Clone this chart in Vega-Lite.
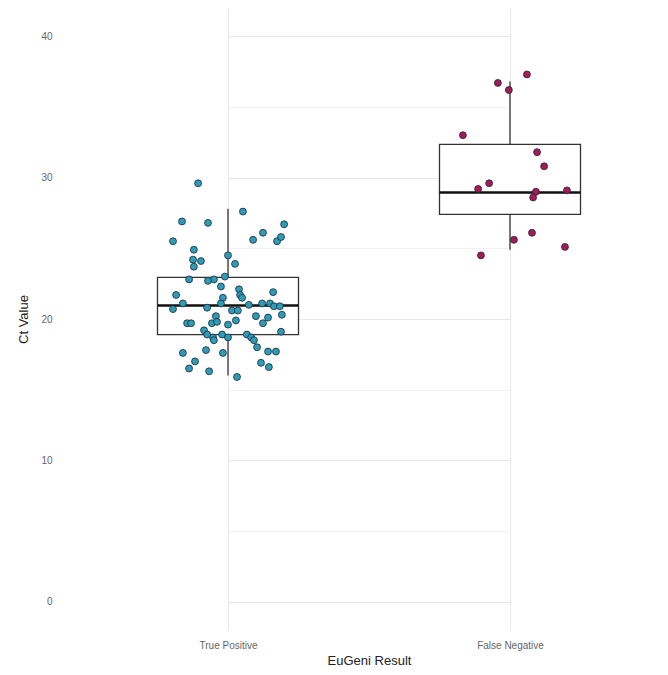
{
  "$schema": "https://vega.github.io/schema/vega-lite/v6.json",
  "autosize": {"type": "none"},
  "width": 608,
  "height": 622,
  "padding": {"left": 60, "top": 8, "right": 0, "bottom": 45},
  "background": "white",
  "config": {
    "view": {"stroke": null},
    "font": "Liberation Sans"
  },
  "datasets": {
    "points": [
      {"result": "True Positive", "ct": 29.6, "jitter": -0.106},
      {"result": "True Positive", "ct": 27.6, "jitter": 0.053},
      {"result": "True Positive", "ct": 26.9, "jitter": -0.163},
      {"result": "True Positive", "ct": 26.8, "jitter": -0.071},
      {"result": "True Positive", "ct": 26.7, "jitter": 0.199},
      {"result": "True Positive", "ct": 25.5, "jitter": -0.195},
      {"result": "True Positive", "ct": 25.6, "jitter": 0.089},
      {"result": "True Positive", "ct": 26.1, "jitter": 0.124},
      {"result": "True Positive", "ct": 25.5, "jitter": 0.174},
      {"result": "True Positive", "ct": 25.8, "jitter": 0.188},
      {"result": "True Positive", "ct": 24.9, "jitter": -0.121},
      {"result": "True Positive", "ct": 24.5, "jitter": 0.0},
      {"result": "True Positive", "ct": 24.2, "jitter": -0.124},
      {"result": "True Positive", "ct": 24.1, "jitter": -0.096},
      {"result": "True Positive", "ct": 23.7, "jitter": -0.121},
      {"result": "True Positive", "ct": 23.9, "jitter": 0.025},
      {"result": "True Positive", "ct": 23.0, "jitter": -0.011},
      {"result": "True Positive", "ct": 22.8, "jitter": -0.05},
      {"result": "True Positive", "ct": 22.7, "jitter": -0.071},
      {"result": "True Positive", "ct": 22.8, "jitter": -0.138},
      {"result": "True Positive", "ct": 22.3, "jitter": -0.025},
      {"result": "True Positive", "ct": 22.1, "jitter": 0.039},
      {"result": "True Positive", "ct": 21.7, "jitter": 0.043},
      {"result": "True Positive", "ct": 21.5, "jitter": 0.05},
      {"result": "True Positive", "ct": 21.9, "jitter": 0.16},
      {"result": "True Positive", "ct": 21.7, "jitter": -0.184},
      {"result": "True Positive", "ct": 21.1, "jitter": -0.16},
      {"result": "True Positive", "ct": 21.5, "jitter": -0.018},
      {"result": "True Positive", "ct": 21.1, "jitter": -0.025},
      {"result": "True Positive", "ct": 20.7, "jitter": -0.195},
      {"result": "True Positive", "ct": 20.8, "jitter": -0.074},
      {"result": "True Positive", "ct": 20.6, "jitter": 0.014},
      {"result": "True Positive", "ct": 20.6, "jitter": 0.035},
      {"result": "True Positive", "ct": 21.0, "jitter": 0.074},
      {"result": "True Positive", "ct": 21.1, "jitter": 0.121},
      {"result": "True Positive", "ct": 21.1, "jitter": 0.149},
      {"result": "True Positive", "ct": 20.9, "jitter": 0.163},
      {"result": "True Positive", "ct": 20.9, "jitter": 0.184},
      {"result": "True Positive", "ct": 20.2, "jitter": -0.043},
      {"result": "True Positive", "ct": 20.2, "jitter": 0.099},
      {"result": "True Positive", "ct": 20.1, "jitter": 0.142},
      {"result": "True Positive", "ct": 20.3, "jitter": 0.191},
      {"result": "True Positive", "ct": 19.7, "jitter": -0.145},
      {"result": "True Positive", "ct": 19.7, "jitter": -0.131},
      {"result": "True Positive", "ct": 19.7, "jitter": -0.057},
      {"result": "True Positive", "ct": 19.8, "jitter": -0.039},
      {"result": "True Positive", "ct": 19.6, "jitter": 0.0},
      {"result": "True Positive", "ct": 19.9, "jitter": 0.028},
      {"result": "True Positive", "ct": 19.7, "jitter": 0.124},
      {"result": "True Positive", "ct": 19.2, "jitter": -0.085},
      {"result": "True Positive", "ct": 18.9, "jitter": -0.074},
      {"result": "True Positive", "ct": 18.7, "jitter": -0.053},
      {"result": "True Positive", "ct": 18.9, "jitter": -0.021},
      {"result": "True Positive", "ct": 18.7, "jitter": 0.0},
      {"result": "True Positive", "ct": 18.5, "jitter": -0.05},
      {"result": "True Positive", "ct": 18.9, "jitter": 0.067},
      {"result": "True Positive", "ct": 18.7, "jitter": 0.082},
      {"result": "True Positive", "ct": 18.5, "jitter": 0.092},
      {"result": "True Positive", "ct": 19.1, "jitter": 0.188},
      {"result": "True Positive", "ct": 18.0, "jitter": 0.103},
      {"result": "True Positive", "ct": 17.8, "jitter": -0.078},
      {"result": "True Positive", "ct": 17.6, "jitter": -0.16},
      {"result": "True Positive", "ct": 17.6, "jitter": -0.018},
      {"result": "True Positive", "ct": 17.7, "jitter": 0.142},
      {"result": "True Positive", "ct": 17.7, "jitter": 0.17},
      {"result": "True Positive", "ct": 17.0, "jitter": -0.117},
      {"result": "True Positive", "ct": 16.5, "jitter": -0.138},
      {"result": "True Positive", "ct": 16.3, "jitter": -0.067},
      {"result": "True Positive", "ct": 16.9, "jitter": 0.117},
      {"result": "True Positive", "ct": 16.6, "jitter": 0.145},
      {"result": "True Positive", "ct": 15.9, "jitter": 0.032},
      {"result": "False Negative", "ct": 37.3, "jitter": 0.06},
      {"result": "False Negative", "ct": 36.7, "jitter": -0.043},
      {"result": "False Negative", "ct": 36.2, "jitter": -0.004},
      {"result": "False Negative", "ct": 33.0, "jitter": -0.167},
      {"result": "False Negative", "ct": 31.8, "jitter": 0.096},
      {"result": "False Negative", "ct": 30.8, "jitter": 0.121},
      {"result": "False Negative", "ct": 29.6, "jitter": -0.074},
      {"result": "False Negative", "ct": 29.2, "jitter": -0.113},
      {"result": "False Negative", "ct": 29.0, "jitter": 0.092},
      {"result": "False Negative", "ct": 29.1, "jitter": 0.202},
      {"result": "False Negative", "ct": 28.6, "jitter": 0.082},
      {"result": "False Negative", "ct": 26.1, "jitter": 0.078},
      {"result": "False Negative", "ct": 25.6, "jitter": 0.014},
      {"result": "False Negative", "ct": 25.1, "jitter": 0.195},
      {"result": "False Negative", "ct": 24.5, "jitter": -0.103}
    ],
    "summary": [
      {"result": "True Positive", "lower": 16.0, "q1": 18.9, "median": 20.95, "q3": 22.95, "upper": 27.8},
      {"result": "False Negative", "lower": 24.9, "q1": 27.4, "median": 28.95, "q3": 32.35, "upper": 36.8}
    ]
  },
  "encoding": {
    "x": {
      "field": "result",
      "type": "nominal",
      "sort": ["True Positive", "False Negative"],
      "scale": {"type": "point", "padding": 0, "range": [168, 450]},
      "axis": {
        "title": "EuGeni Result",
        "titleFont": "Liberation Sans",
        "titleFontSize": 13,
        "titleFontWeight": "normal",
        "titleColor": "#222222",
        "titlePadding": 4,
        "labelAngle": 0,
        "labelFontSize": 10,
        "labelColor": "#666666",
        "labelPadding": 10,
        "domain": false,
        "ticks": false,
        "grid": true,
        "gridColor": "#E8E8E8",
        "gridWidth": 1
      }
    },
    "y": {
      "type": "quantitative",
      "scale": {"domain": [-2, 42], "nice": false, "zero": false},
      "axis": {
        "title": "Ct Value",
        "titleFont": "Liberation Sans",
        "titleFontSize": 13,
        "titleFontWeight": "normal",
        "titleColor": "#222222",
        "titlePadding": 10,
        "values": [0, 5, 10, 15, 20, 25, 30, 35, 40],
        "labelExpr": "datum.value % 10 === 0 ? datum.label : ''",
        "labelFontSize": 10,
        "labelColor": "#666666",
        "labelPadding": 8,
        "domain": false,
        "ticks": false,
        "grid": true,
        "gridColor": {"condition": {"test": "datum.value % 10 === 0", "value": "#E8E8E8"}, "value": "#F1F1F1"},
        "gridWidth": 1
      }
    }
  },
  "layer": [
    {
      "data": {"name": "summary"},
      "mark": {"type": "rule", "color": "#333333", "strokeWidth": 1.3},
      "encoding": {
        "y": {"field": "lower", "type": "quantitative"},
        "y2": {"field": "upper"}
      }
    },
    {
      "data": {"name": "summary"},
      "mark": {"type": "bar", "width": 141, "fill": "white", "stroke": "#333333", "strokeWidth": 1.3},
      "encoding": {
        "y": {"field": "q1", "type": "quantitative"},
        "y2": {"field": "q3"}
      }
    },
    {
      "data": {"name": "summary"},
      "mark": {"type": "tick", "size": 141, "thickness": 2.5, "color": "#111111", "opacity": 1, "orient": "horizontal"},
      "encoding": {
        "y": {"field": "median", "type": "quantitative"}
      }
    },
    {
      "data": {"name": "points"},
      "mark": {"type": "point", "filled": true, "size": 48, "stroke": "#1a2a30", "strokeWidth": 0.8, "opacity": 1},
      "encoding": {
        "y": {"field": "ct", "type": "quantitative"},
        "xOffset": {"field": "jitter", "type": "quantitative", "scale": {"domain": [-0.5, 0.5], "range": [-141, 141]}},
        "fill": {
          "field": "result",
          "type": "nominal",
          "scale": {"domain": ["True Positive", "False Negative"], "range": ["#2E9BBA", "#A8185A"]},
          "legend": null
        }
      }
    }
  ]
}
